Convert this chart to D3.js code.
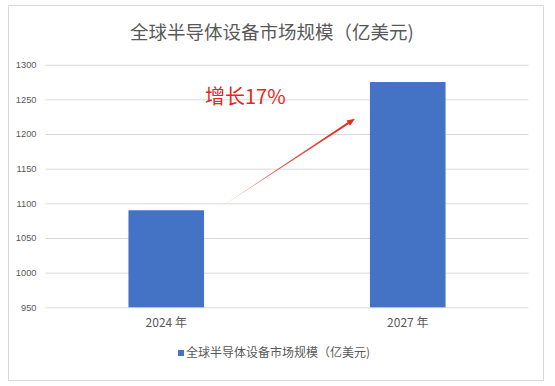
<!DOCTYPE html>
<html>
<head>
<meta charset="utf-8">
<script src="https://cdn.jsdelivr.net/npm/d3@7"></script>
<style>
	body { margin: 0; background: #fff; }
	text { font-family: "Noto Sans CJK SC", "Noto Sans", sans-serif; }
</style>
</head>
<body>
<div id="root"></div>
<script>
const title = "全球半导体设备市场规模（亿美元)";
const seriesName = "全球半导体设备市场规模（亿美元)";
const years = ["2024 年", "2027 年"];
const values = [1090, 1275];
const yTicks = [950, 1000, 1050, 1100, 1150, 1200, 1250, 1300];
const growthLabel = "增长17%";

const width = 555;
const height = 386;
const plot = { left: 45.5, right: 528.5, top: 64.7, bottom: 307.3 };

const svg = d3.select("#root")
	.append("svg")
		.attr("width", width)
		.attr("height", height);

// chart frame
svg.append("rect")
	.attr("x", 8.5).attr("y", 5.5)
	.attr("width", 535).attr("height", 375)
	.style("fill", "#fff")
	.style("stroke", "#d9d9d9");

// scales
const y = d3.scaleLinear()
	.domain([950, 1300])
	.range([plot.bottom, plot.top]);

const x = d3.scaleBand()
	.domain(years)
	.range([plot.left, plot.right])
	.paddingInner(0.687)
	.paddingOuter(0.3435);

// gridlines + y labels
const yAxis = d3.axisLeft(y)
	.tickValues(yTicks)
	.tickFormat(d3.format("d"))
	.tickSize(-(plot.right - plot.left))
	.tickPadding(9);

const gy = svg.append("g")
	.attr("transform", `translate(${plot.left},0)`)
	.call(yAxis);
gy.select(".domain").remove();
gy.selectAll(".tick line").style("stroke", "#d9d9d9");
gy.selectAll(".tick text")
	.style("font-family", "'Liberation Sans', Arial, sans-serif")
	.style("font-size", "9.3px")
	.style("fill", "#595959");

// x labels
const xAxis = d3.axisBottom(x).tickSize(0).tickPadding(11);
const gx = svg.append("g")
	.attr("transform", `translate(0,${plot.bottom})`)
	.call(xAxis);
gx.select(".domain").remove();
gx.selectAll(".tick text")
	.style("font-size", "12px")
	.style("fill", "#595959");

// bars
svg.selectAll(".bar")
	.data(values).enter()
	.append("rect")
		.attr("class", "bar")
		.attr("x", (d, i) => x(years[i]))
		.attr("y", d => y(d))
		.attr("width", x.bandwidth())
		.attr("height", d => plot.bottom - y(d))
		.style("fill", "#4472c4");

// title
svg.append("text")
	.text(title)
	.attr("x", 272)
	.attr("y", 39)
	.style("text-anchor", "middle")
	.style("font-size", "18.5px")
	.style("fill", "#595959");

// growth arrow (tapered, fading in)
const defs = svg.append("defs");
const x0 = x(years[0]) + x.bandwidth() + 14, y0 = y(1092);
const x1 = x(years[1]) - 15, y1 = y(1222);
const grad = defs.append("linearGradient")
	.attr("id", "arrowGrad")
	.attr("gradientUnits", "userSpaceOnUse")
	.attr("x1", x0).attr("y1", y0)
	.attr("x2", x1).attr("y2", y1);
grad.append("stop").attr("offset", "0").attr("stop-color", "#f4c4bc");
grad.append("stop").attr("offset", "0.45").attr("stop-color", "#e8584a");
grad.append("stop").attr("offset", "1").attr("stop-color", "#e3281b");

const ang = Math.atan2(y1 - y0, x1 - x0);
const nx = -Math.sin(ang), ny = Math.cos(ang);
const ux = Math.cos(ang), uy = Math.sin(ang);
const headLen = 8, headW = 3.2, shaftW = 1.1;
const bx = x1 - ux * headLen, by = y1 - uy * headLen;
const pts = [
	[x0, y0],
	[bx + nx * shaftW, by + ny * shaftW],
	[bx + nx * headW, by + ny * headW],
	[x1, y1],
	[bx - nx * headW, by - ny * headW],
	[bx - nx * shaftW, by - ny * shaftW]
];
svg.append("path")
	.attr("d", "M" + pts.map(p => p.join(",")).join("L") + "Z")
	.style("fill", "url(#arrowGrad)");

svg.append("text")
	.text(growthLabel)
	.attr("x", 205)
	.attr("y", y(1244))
	.style("font-size", "20px")
	.style("fill", "#e3281b");

// legend
const legend = svg.append("g").attr("transform", "translate(178,353)");
legend.append("rect")
	.attr("x", 0).attr("y", -3)
	.attr("width", 6).attr("height", 6)
	.style("fill", "#4472c4");
legend.append("text")
	.text(seriesName)
	.attr("x", 8)
	.attr("dy", "0.35em")
	.style("font-size", "12px")
	.style("fill", "#595959");
</script>
</body>
</html>
